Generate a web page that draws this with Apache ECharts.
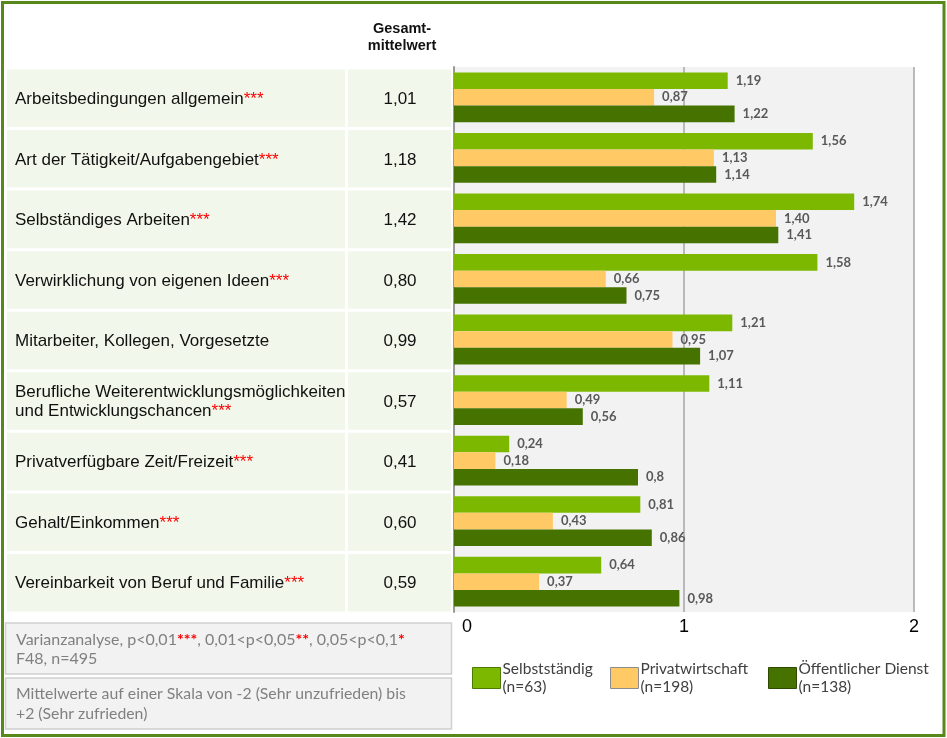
<!DOCTYPE html>
<html>
<head>
<meta charset="utf-8">
<script src="https://cdn.jsdelivr.net/npm/echarts@6/dist/echarts.min.js"></script>
<style>
html,body{margin:0;padding:0;background:#fff;}
#chart{width:947px;height:738px;}
</style>
</head>
<body>
<div id="chart"></div>
<script>
// ---- data ----
const categories = [
  'Arbeitsbedingungen allgemein',
  'Art der Tätigkeit/Aufgabengebiet',
  'Selbständiges Arbeiten',
  'Verwirklichung von eigenen Ideen',
  'Mitarbeiter, Kollegen, Vorgesetzte',
  'Berufliche Weiterentwicklungsmöglichkeiten\nund Entwicklungschancen',
  'Privatverfügbare Zeit/Freizeit',
  'Gehalt/Einkommen',
  'Vereinbarkeit von Beruf und Familie'
];
const significance = ['***', '***', '***', '***', '', '***', '***', '***', '***'];
const gesamtMittelwert = ['1,01', '1,18', '1,42', '0,80', '0,99', '0,57', '0,41', '0,60', '0,59'];
const selbststaendig = ['1,19', '1,56', '1,74', '1,58', '1,21', '1,11', '0,24', '0,81', '0,64'];
const privatwirtschaft = ['0,87', '1,13', '1,40', '0,66', '0,95', '0,49', '0,18', '0,43', '0,37'];
const oeffentlicherDienst = ['1,22', '1,14', '1,41', '0,75', '1,07', '0,56', '0,8', '0,86', '0,98'];
const seriesNames = ['Selbstständig\n(n=63)', 'Privatwirtschaft\n(n=198)', 'Öffentlicher Dienst\n(n=138)'];
const xTicks = [0, 1, 2];
const headerText = 'Gesamt-\nmittelwert';
const note1 = ['Varianzanalyse, p<0,01', '***', ', 0,01<p<0,05', '**', ', 0,05<p<0,1', '*', '\nF48, n=495'];
const note2 = 'Mittelwerte auf einer Skala von -2 (Sehr unzufrieden) bis\n+2 (Sehr zufrieden)';

// ---- helpers ----
const num = s => parseFloat(s.replace(',', '.'));
const colors = ['#7CB800', '#FFCA66', '#467300'];
const legendBorders = ['#4E7A00', '#8C8C8C', '#2E4A00'];
const valueArrays = [selbststaendig, privatwirtschaft, oeffentlicherDienst];

const chart = echarts.init(document.getElementById('chart'), null, {renderer: 'canvas'});

function nameRich(i) {
  const lines = categories[i].split('\n');
  return lines.map((l, k) => '{t|' + l + '}' + (k === lines.length - 1 && significance[i] ? '{s|' + significance[i] + '}' : '')).join('\n');
}

const barSeries = valueArrays.map((arr, si) => ({
  type: 'bar',
  name: seriesNames[si],
  data: arr.map(num),
  barWidth: 16.6,
  barGap: '0%',
  itemStyle: {color: colors[si]},
  label: {
    show: true,
    position: 'right',
    distance: 8,
    formatter: p => arr[p.dataIndex],
    fontFamily: 'Lato',
    fontWeight: 'bold',
    fontSize: 13,
    color: '#595959'
  }
}));

const tableSeries = {
  type: 'custom',
  silent: true,
  clip: false,
  encode: {x: 0, y: 1},
  data: categories.map((c, i) => [0, i]),
  renderItem: function (params, api) {
    const i = api.value(1);
    const c = api.coord([0, i]);
    const band = api.size([0, 1])[1];
    const top = c[1] - band / 2;
    return {
      type: 'group',
      children: [
        {type: 'rect', shape: {x: 7, y: top + 2.5, width: 338, height: band - 3}, style: {fill: '#F1F7EA'}},
        {type: 'rect', shape: {x: 348, y: top + 2.5, width: 103, height: band - 3}, style: {fill: '#F1F7EA'}},
        {type: 'text', style: {
          x: 15, y: c[1] + 2, text: nameRich(i), align: 'left', verticalAlign: 'middle',
          rich: {
            t: {fontFamily: 'Liberation Sans', fontSize: 17, fill: '#111', lineHeight: 19, color: '#111'},
            s: {fontFamily: 'Liberation Sans', fontSize: 17, fill: '#FF0000', lineHeight: 19, color: '#FF0000'}
          }
        }},
        {type: 'text', style: {
          x: 400, y: c[1] + 2, text: gesamtMittelwert[i], align: 'center', verticalAlign: 'middle',
          fontFamily: 'Liberation Sans', fontSize: 17, fill: '#111'
        }}
      ]
    };
  }
};

const legendLefts = [467, 605, 763];
const legends = seriesNames.map((n, si) => ({
  data: [n],
  left: legendLefts[si],
  top: 655,
  itemWidth: 28,
  itemHeight: 21,
  itemGap: 2,
  icon: 'rect',
  selectedMode: false,
  itemStyle: {borderColor: legendBorders[si], borderWidth: 1},
  textStyle: {fontFamily: 'Lato', fontSize: 15.5, color: '#404040', lineHeight: 18, padding: [0, 0, 0, -3]}
}));

const noteRich = note1.map((s, k) => (k % 2 === 1 ? '{r|' + s + '}' : s.split('\n').map(x => x ? '{g|' + x + '}' : '').join('\n'))).join('');

const option = {
  animation: false,
  backgroundColor: '#fff',
  legend: legends,
  grid: {left: 454, right: 33, top: 67, bottom: 126, show: true, backgroundColor: '#F2F2F2', borderWidth: 0},
  xAxis: {
    type: 'value',
    min: xTicks[0],
    max: xTicks[xTicks.length - 1],
    interval: 1,
    axisLine: {show: false},
    axisTick: {show: false},
    splitLine: {show: true, lineStyle: {color: '#A6A6A6', width: 1.5}},
    axisLabel: {
      margin: 6,
      alignMinLabel: 'left',
      fontFamily: 'Liberation Sans',
      fontSize: 18,
      color: '#000',
      formatter: v => (v === xTicks[0] ? '{z|' + v + '}' : String(v)),
      rich: {z: {fontFamily: 'Liberation Sans', fontSize: 18, color: '#000', padding: [0, 0, 0, 8]}}
    }
  },
  yAxis: {
    type: 'category',
    data: categories,
    inverse: true,
    axisLabel: {show: false},
    axisTick: {show: false},
    splitLine: {show: false},
    axisLine: {show: true, lineStyle: {color: '#9A9A9A', width: 2}}
  },
  series: [tableSeries].concat(barSeries),
  graphic: [
    {type: 'rect', shape: {x: 2.5, y: 2.5, width: 941.5, height: 733}, style: {fill: 'none', stroke: '#558A1A', lineWidth: 3}, z: 100},
    {type: 'text', x: 402, y: 37, style: {text: headerText, align: 'center', verticalAlign: 'middle', fontFamily: 'Liberation Sans', fontWeight: 'bold', fontSize: 14.5, lineHeight: 17, fill: '#111'}},
    {type: 'rect', shape: {x: 5.5, y: 623, width: 446, height: 51}, style: {fill: '#F2F2F2', stroke: '#D0D0D0', lineWidth: 1.5}},
    {type: 'text', x: 16, y: 649, style: {
      text: noteRich, align: 'left', verticalAlign: 'middle',
      rich: {
        g: {fontFamily: 'Lato', fontSize: 16, fill: '#808080', lineHeight: 19},
        r: {fontFamily: 'Lato', fontSize: 16, fontWeight: 'bold', fill: '#FF0000', lineHeight: 19}
      }
    }},
    {type: 'rect', shape: {x: 5.5, y: 678, width: 446, height: 51}, style: {fill: '#F2F2F2', stroke: '#D0D0D0', lineWidth: 1.5}},
    {type: 'text', x: 16, y: 704, style: {text: note2, align: 'left', verticalAlign: 'middle', fontFamily: 'Lato', fontSize: 15.8, fill: '#808080', lineHeight: 20}}
  ]
};
chart.setOption(option);
</script>
</body>
</html>
